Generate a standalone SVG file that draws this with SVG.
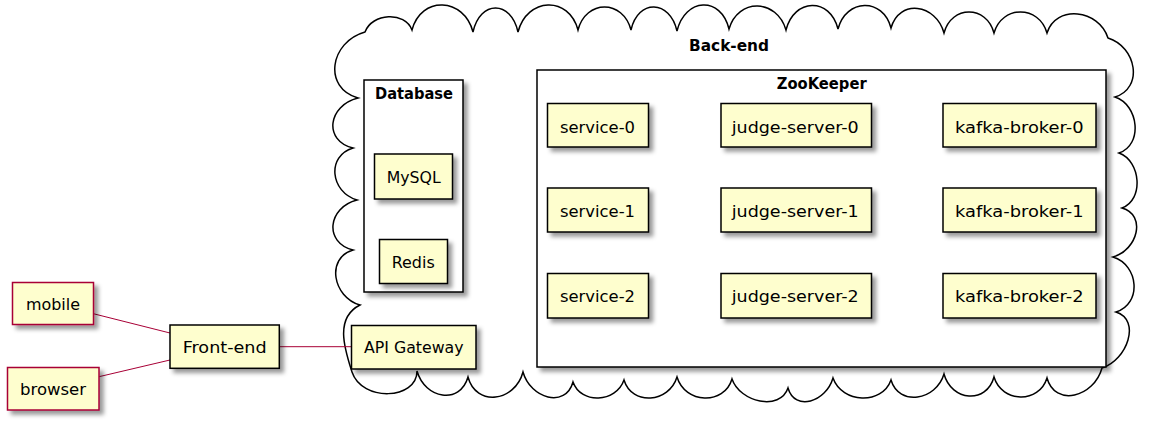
<svg xmlns="http://www.w3.org/2000/svg" width="1160" height="425" viewBox="0 0 1160 425">
<defs>
<filter id="sh" x="-1" y="-1" width="300%" height="300%">
<feGaussianBlur result="blurOut" stdDeviation="2"/>
<feColorMatrix in="blurOut" result="blurOut2" type="matrix" values="0 0 0 0 0 0 0 0 0 0 0 0 0 0 0 0 0 0 .4 0"/>
<feOffset dx="4" dy="4" in="blurOut2" result="blurOut3"/>
<feBlend in="SourceGraphic" in2="blurOut3" mode="normal"/>
</filter>
</defs>
<style>
.n { fill:#FEFECE; stroke:#000000; stroke-width:1.5; }
.r { fill:#FEFECE; stroke:#A80036; stroke-width:1.5; }
.f { fill:#FFFFFF; stroke:#000000; stroke-width:1.5; }
.cl { fill:#FFFFFF; stroke:#000000; stroke-width:1.5; }
.t { font-family:"DejaVu Sans", Verdana, sans-serif; font-size:16px; fill:#000000; }
.b { font-weight:bold; font-size:15px; }
.c { stroke:#A80036; stroke-width:1; fill:none; }
</style>
<rect width="1160" height="425" fill="#FFFFFF"/>

<g id="backend">
<path class="cl" d="M365,32
C372,13 405,11 412,30
C421,-4.7 464,-2.7 473,32
C480,0 511,0 518,32
C527,-2.7 569,-4.7 578,30
C586,-0.7 623,-0.7 631,30
C638,-1.3 670,-0.3 677,31
C685,-2.3 721,-4.3 729,29
C738,-2.3 777,-1.3 786,30
C794,-2 830,-3 838,29
C846,-1.7 883,-2.7 891,28
C899,-1.3 936,3.7 944,33
C951.5,5 986.5,5 994,33
C1002,5 1039,5 1047,33
C1056,4.3 1099,9.3 1108,38
C1136.7,47 1143.7,88 1115,97
C1139,105 1143,145 1119,153
C1141,161 1144,200 1122,208
C1146.7,215 1137.7,250 1113,257
C1139,265 1142,304 1116,312
C1141.3,320 1127.3,360 1102,368
C1094,397.3 1055,407.3 1047,378
C1039,404 1002,403 994,377
C986.5,404.3 951.5,401.3 944,374
C936,400.7 899,406.7 891,380
C882,405.3 842,403.3 833,378
C826,402 795,412 788,388
C780,411.3 740,402.3 732,379
C724,405.7 685,403.7 677,377
C669,403 632,406 624,380
C616,402.7 581,404.7 573,382
C565.5,408.7 530.5,398.7 523,372
C515,402 476,407 468,377
C460,405 425,399 417,371
C417,400 362,402 352,372
C345,350 334,318 360,305
C332.7,297 325.7,258 353,250
C323.7,242.5 327.7,207.5 357,200
C330.3,192 326.3,156 353,148
C323,140.5 328,105.5 358,98
C322.7,88 329.7,42 365,32 Z"/>
<text class="t b" x="729" y="51" text-anchor="middle" textLength="80" lengthAdjust="spacingAndGlyphs">Back-end</text>
</g>

<g id="database">
<rect class="f" filter="url(#sh)" x="364" y="80" width="99" height="212"/>
<text class="t b" x="375" y="99" textLength="78" lengthAdjust="spacingAndGlyphs">Database</text>
</g>
<g id="mysql">
<rect class="n" filter="url(#sh)" x="374.5" y="154" width="78" height="45"/>
<text class="t" x="386.7" y="183.3" textLength="54" lengthAdjust="spacingAndGlyphs">MySQL</text>
</g>
<g id="redis">
<rect class="n" filter="url(#sh)" x="379.5" y="239.5" width="68" height="44"/>
<text class="t" x="391.7" y="268.3" textLength="43" lengthAdjust="spacingAndGlyphs">Redis</text>
</g>

<g id="zookeeper">
<rect class="f" filter="url(#sh)" x="537" y="70" width="569" height="297"/>
<text class="t b" x="776.7" y="89.3" textLength="90" lengthAdjust="spacingAndGlyphs">ZooKeeper</text>
</g>

<g id="service-0">
<rect class="n" filter="url(#sh)" x="547.5" y="103.5" width="101" height="43.5"/>
<text class="t" x="560" y="132.5" textLength="75" lengthAdjust="spacingAndGlyphs">service-0</text>
</g>
<g id="service-1">
<rect class="n" filter="url(#sh)" x="547.5" y="188" width="101" height="44"/>
<text class="t" x="560" y="216.8" textLength="75" lengthAdjust="spacingAndGlyphs">service-1</text>
</g>
<g id="service-2">
<rect class="n" filter="url(#sh)" x="547.5" y="273.5" width="101" height="44.5"/>
<text class="t" x="560" y="302.3" textLength="75" lengthAdjust="spacingAndGlyphs">service-2</text>
</g>

<g id="judge-server-0">
<rect class="n" filter="url(#sh)" x="721" y="103.5" width="150.5" height="43.5"/>
<text class="t" x="731.7" y="132.5" textLength="127" lengthAdjust="spacingAndGlyphs">judge-server-0</text>
</g>
<g id="judge-server-1">
<rect class="n" filter="url(#sh)" x="721" y="188" width="150.5" height="44"/>
<text class="t" x="731.7" y="216.8" textLength="127" lengthAdjust="spacingAndGlyphs">judge-server-1</text>
</g>
<g id="judge-server-2">
<rect class="n" filter="url(#sh)" x="721" y="273.5" width="150.5" height="44.5"/>
<text class="t" x="731.7" y="302.3" textLength="127" lengthAdjust="spacingAndGlyphs">judge-server-2</text>
</g>

<g id="kafka-broker-0">
<rect class="n" filter="url(#sh)" x="943" y="103.5" width="153" height="43.5"/>
<text class="t" x="955" y="132.5" textLength="128.5" lengthAdjust="spacingAndGlyphs">kafka-broker-0</text>
</g>
<g id="kafka-broker-1">
<rect class="n" filter="url(#sh)" x="943" y="188" width="153" height="44"/>
<text class="t" x="955" y="216.8" textLength="128.5" lengthAdjust="spacingAndGlyphs">kafka-broker-1</text>
</g>
<g id="kafka-broker-2">
<rect class="n" filter="url(#sh)" x="943" y="273.5" width="153" height="44.5"/>
<text class="t" x="955" y="302.3" textLength="128.5" lengthAdjust="spacingAndGlyphs">kafka-broker-2</text>
</g>

<g id="connectors">
<line class="c" x1="93.3" y1="313.7" x2="170" y2="333"/>
<line class="c" x1="99" y1="376.7" x2="170" y2="360"/>
<line class="c" x1="279.3" y1="346.7" x2="351.5" y2="346.7"/>
</g>

<g id="api-gateway">
<rect class="n" filter="url(#sh)" x="351.5" y="325.5" width="124.5" height="43.5"/>
<text class="t" x="364" y="353.3" textLength="99.5" lengthAdjust="spacingAndGlyphs">API Gateway</text>
</g>

<g id="mobile">
<rect class="r" filter="url(#sh)" x="12.5" y="282.5" width="81" height="42"/>
<text class="t" x="26" y="310" textLength="54" lengthAdjust="spacingAndGlyphs">mobile</text>
</g>
<g id="browser">
<rect class="r" filter="url(#sh)" x="7.5" y="367.5" width="91.5" height="42.5"/>
<text class="t" x="20" y="395" textLength="66" lengthAdjust="spacingAndGlyphs">browser</text>
</g>
<g id="front-end">
<rect class="n" filter="url(#sh)" x="170" y="325" width="109.3" height="43.3"/>
<text class="t" x="182.7" y="353.3" textLength="84" lengthAdjust="spacingAndGlyphs">Front-end</text>
</g>
</svg>
